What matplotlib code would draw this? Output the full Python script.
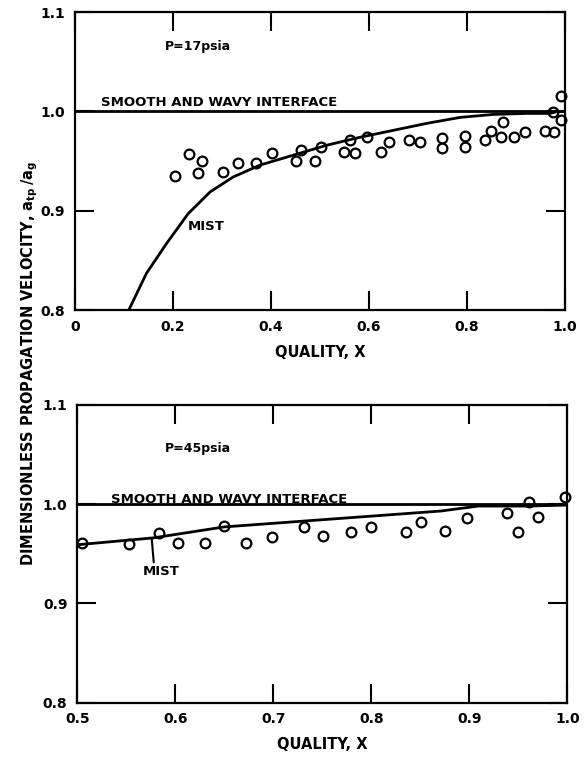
import matplotlib
matplotlib.use("Agg")
import matplotlib.pyplot as plt
import numpy as np

plt.rcParams['font.family'] = ['DejaVu Sans']
plt.rcParams['font.weight'] = 'bold'
plt.rcParams['mathtext.default'] = 'bf'

# ---- Top panel data (P=17 psia) ----
top_x = [0.205, 0.233, 0.252, 0.260, 0.303, 0.332, 0.369, 0.402, 0.452, 0.461,
         0.490, 0.502, 0.548, 0.562, 0.571, 0.595, 0.624, 0.641, 0.682, 0.703,
         0.748, 0.748, 0.796, 0.796, 0.837, 0.848, 0.869, 0.874, 0.896, 0.918,
         0.959, 0.978, 0.976, 0.991, 0.992]
top_y = [0.935, 0.957, 0.938, 0.950, 0.939, 0.948, 0.948, 0.958, 0.950, 0.961,
         0.950, 0.964, 0.959, 0.971, 0.958, 0.974, 0.959, 0.969, 0.971, 0.969,
         0.973, 0.963, 0.975, 0.964, 0.971, 0.980, 0.974, 0.989, 0.974, 0.979,
         0.980, 0.979, 0.999, 0.991, 1.016]
top_mist_x = [0.110, 0.146, 0.187, 0.231, 0.276, 0.323, 0.378, 0.446, 0.514,
              0.582, 0.650, 0.718, 0.786, 0.854, 0.922, 0.969, 0.985, 1.0]
top_mist_y = [0.800, 0.837, 0.867, 0.897, 0.919, 0.934, 0.946, 0.956, 0.966,
              0.974, 0.981, 0.988, 0.994, 0.997, 0.998, 0.998, 1.000, 1.000]
top_smooth_x = [0.0, 1.0]
top_smooth_y = [1.0, 1.0]
top_xticks = [0, 0.2, 0.4, 0.6, 0.8, 1.0]
top_xticklabels = ["0", "0.2", "0.4", "0.6", "0.8", "1.0"]

# ---- Bottom panel data (P=45 psia) ----
bot_x = [0.505, 0.553, 0.583, 0.603, 0.630, 0.650, 0.672, 0.699, 0.731, 0.751,
         0.779, 0.800, 0.835, 0.851, 0.875, 0.898, 0.938, 0.950, 0.961, 0.970,
         0.997]
bot_y = [0.961, 0.960, 0.971, 0.961, 0.961, 0.978, 0.961, 0.967, 0.977, 0.968,
         0.972, 0.977, 0.972, 0.982, 0.973, 0.986, 0.991, 0.972, 1.002, 0.987,
         1.007]
bot_mist_x = [0.5, 0.578, 0.650, 0.871, 0.909, 0.96, 1.0]
bot_mist_y = [0.959, 0.966, 0.977, 0.993, 0.998, 0.998, 0.999]
bot_smooth_x = [0.5, 1.0]
bot_smooth_y = [1.0, 1.0]
bot_xticks = [0.5, 0.6, 0.7, 0.8, 0.9, 1.0]
bot_xticklabels = ["0.5", "0.6", "0.7", "0.8", "0.9", "1.0"]

yticks = [0.8, 0.9, 1.0, 1.1]
yticklabels = ["0.8", "0.9", "1.0", "1.1"]

fig = plt.figure(figsize=(5.85, 7.58), dpi=100)
ax1 = fig.add_axes([0.128, 0.591, 0.838, 0.393])
ax2 = fig.add_axes([0.132, 0.073, 0.838, 0.393])

def style(ax, xlim, xticks, xticklabels):
    ax.set_xlim(*xlim)
    ax.set_ylim(0.8, 1.1)
    ax.set_xticks(xticks)
    ax.set_xticklabels(xticklabels, fontsize=10, fontweight='bold')
    ax.set_yticks(yticks)
    ax.set_yticklabels(yticklabels, fontsize=10, fontweight='bold')
    ax.tick_params(direction='in', length=14, width=1.5, top=True, right=True,
                   pad=7)
    for s in ax.spines.values():
        s.set_linewidth(1.6)
    ax.set_xlabel("QUALITY, X", fontsize=10.5, fontweight='bold', labelpad=8)

# Top
ax1.plot(top_smooth_x, top_smooth_y, color='black', lw=2)
ax1.plot(top_mist_x, top_mist_y, color='black', lw=2)
ax1.plot(top_x, top_y, 'o', mfc='none', mec='black', ms=7, mew=1.6, clip_on=False)
style(ax1, (0, 1.0), top_xticks, top_xticklabels)
ax1.text(0.184, 1.065, "P=17psia", fontsize=9, fontweight='bold', va='center')
ax1.text(0.054, 1.009, "SMOOTH AND WAVY INTERFACE", fontsize=9.5, fontweight='bold', va='center')
ax1.text(0.231, 0.884, "MIST", fontsize=9.5, fontweight='bold', va='center')

# Bottom
ax2.plot(bot_smooth_x, bot_smooth_y, color='black', lw=2)
ax2.plot(bot_mist_x, bot_mist_y, color='black', lw=2)
ax2.plot(bot_x, bot_y, 'o', mfc='none', mec='black', ms=7, mew=1.6, clip_on=False)
style(ax2, (0.5, 1.0), bot_xticks, bot_xticklabels)
ax2.text(0.589, 1.056, "P=45psia", fontsize=9, fontweight='bold', va='center')
ax2.text(0.534, 1.005, "SMOOTH AND WAVY INTERFACE", fontsize=9.5, fontweight='bold', va='center')
ax2.annotate("MIST", xy=(0.576, 0.965), xytext=(0.567, 0.932), fontsize=9.5,
             fontweight='bold', va='center',
             arrowprops=dict(arrowstyle='-', color='black', lw=1.5,
                             shrinkA=0, shrinkB=0, relpos=(0.3, 1.0)))

fig.text(0.05, 0.521, r"DIMENSIONLESS PROPAGATION VELOCITY, $a_{tp}\,/a_g$",
         rotation=90, fontsize=10.5, fontweight='bold', ha='center', va='center')

fig.savefig("out.png", dpi=100)
